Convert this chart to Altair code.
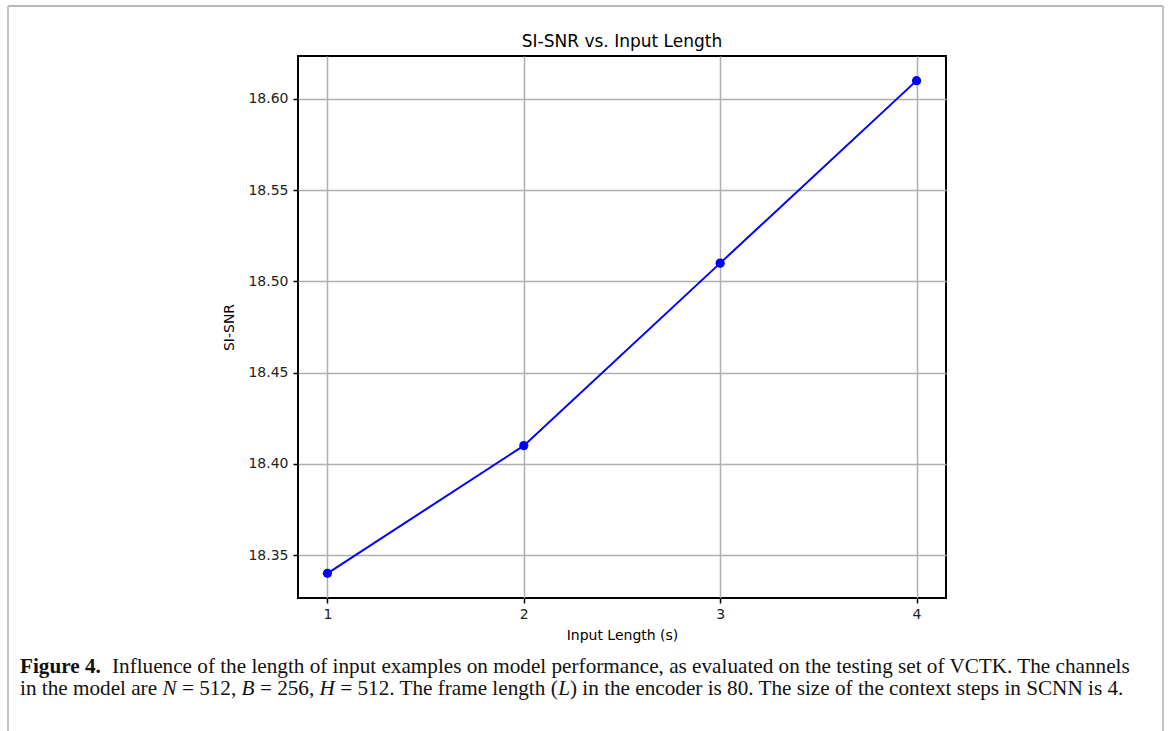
import altair as alt
import pandas as pd

# ---- data ----
input_length = [1, 2, 3, 4]
si_snr = [18.34, 18.41, 18.51, 18.61]

x_ticks = [1, 2, 3, 4]
y_ticks = [18.35, 18.40, 18.45, 18.50, 18.55, 18.60]

chart_title = ["SI-SNR vs. Input Length"]
x_title = "Input Length (s)"
y_title = "SI-SNR"
caption_bold = ["Figure 4."]
caption_line1 = ["Influence of the length of input examples on model performance, as evaluated on the testing set of VCTK. The channels"]
# second caption line, split where the maths letters are set in italics
caption_line2_parts = ["in the model are", "N", "= 512,", "B", "= 256,", "H",
                       "= 512. The frame length (", "L",
                       ") in the encoder is 80. The size of the context steps in SCNN is 4."]
caption_line2_italic = [False, True, False, True, False, True, False, True, False]

# ---- layout (pixels on the 1170x731 page) ----
PL, PT, PW, PH = 298, 56, 648, 542
CAP_SIZE = 21.2
CAP_Y1, CAP_Y2 = 673, 695
caption_line2_x = [20, 162.5, 181.9, 241.6, 259.9, 319.6, 340.2, 558.2, 570]

df = pd.DataFrame({"len": input_length, "snr": si_snr})

x_scale = alt.Scale(domain=[0.85, 4.15], nice=False, zero=False)
y_scale = alt.Scale(domain=[18.3265, 18.6235], nice=False, zero=False)

base = alt.Chart(df).encode(
    x=alt.X("len:Q", scale=x_scale,
            axis=alt.Axis(values=x_ticks, format="d", title=x_title,
                          titlePadding=7, labelPadding=4)),
    y=alt.Y("snr:Q", scale=y_scale,
            axis=alt.Axis(values=y_ticks, format=".2f", title=y_title,
                          titlePadding=11, labelPadding=5)),
)

line = base.mark_line(color="#0000ff", strokeWidth=2)
points = base.mark_point(filled=True, color="#0000ff", size=85, opacity=1)


def txt(values, x, y, **kw):
    return alt.Chart(pd.DataFrame({"t": values})).mark_text(
        align=kw.pop("align", "left"), baseline="alphabetic", **kw
    ).encode(text="t:N", x=alt.value(x), y=alt.value(y))


layers = [line, points]
layers.append(txt(chart_title, PW / 2, 47 - PT, align="center",
                  font="DejaVu Sans", fontSize=17, color="black"))
layers.append(txt(caption_bold, 20 - PL, CAP_Y1 - PT, font="Liberation Serif",
                  fontSize=CAP_SIZE, fontWeight="bold", color="#111"))
layers.append(txt(caption_line1, 112 - PL, CAP_Y1 - PT, font="Liberation Serif",
                  fontSize=CAP_SIZE, color="#111"))
for part, italic, px in zip(caption_line2_parts, caption_line2_italic, caption_line2_x):
    kw = {"fontStyle": "italic"} if italic else {}
    layers.append(txt([part], px - PL, CAP_Y2 - PT, font="Liberation Serif",
                      fontSize=CAP_SIZE, color="#111", **kw))

border_data = pd.DataFrame({"k": [0]})
layers.append(alt.Chart(border_data).mark_rule(color="#a0a0a0", strokeWidth=1.5).encode(
    x=alt.value(8 - PL), x2=alt.value(1163 - PL), y=alt.value(6 - PT)))
layers.append(alt.Chart(border_data).mark_rule(color="#c4c4c4", strokeWidth=2).encode(
    x=alt.value(8 - PL), y=alt.value(6 - PT), y2=alt.value(740 - PT)))
layers.append(alt.Chart(border_data).mark_rule(color="#c4c4c4", strokeWidth=2).encode(
    x=alt.value(1163 - PL), y=alt.value(6 - PT), y2=alt.value(740 - PT)))

chart = alt.layer(*layers).properties(
    width=PW, height=PH,
    autosize=alt.AutoSizeParams(type="none"),
    padding={"left": PL, "top": PT, "right": 1170 - PL - PW, "bottom": 731 - PT - PH},
    background="white",
).configure_view(
    stroke="black", strokeWidth=2
).configure_axis(
    domain=False,
    grid=True, gridColor="#b0b0b0", gridWidth=1.5,
    ticks=True, tickColor="black", tickSize=5, tickWidth=1.5,
    labelFont="DejaVu Sans", labelFontSize=14, labelColor="#222",
    titleFont="DejaVu Sans", titleFontSize=14, titleFontWeight="normal", titleColor="black",
)

chart.save("out.html", embed_options={"renderer": "svg", "actions": False})
